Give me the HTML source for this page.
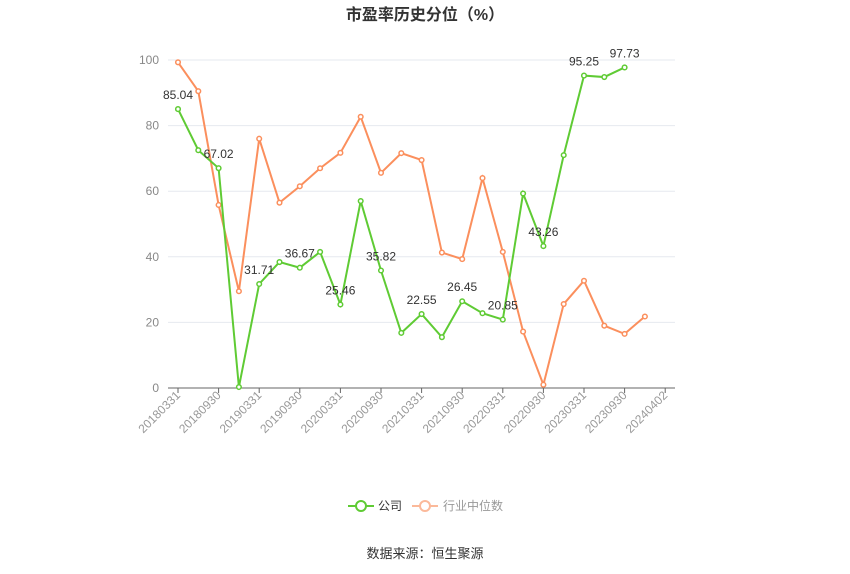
<!DOCTYPE html>
<html><head><meta charset="utf-8"><style>
body{margin:0;background:#fff;}
svg{display:block;font-family:"Liberation Sans","Noto Sans CJK SC",sans-serif;}
</style></head><body>
<svg id="c" width="850" height="574" xmlns="http://www.w3.org/2000/svg"></svg>
<script>
const s=document.getElementById('c');
let h='';
h+='<text x="425" y="20" text-anchor="middle" font-size="16" font-weight="bold" fill="#333">市盈率历史分位（%）</text>';
const X=i=>178+i*20.3, Y=v=>388-v*3.28;
for(let v=0;v<=100;v+=20){
 if(v>0)h+=`<line x1="168" x2="675" y1="${Y(v)}" y2="${Y(v)}" stroke="#e6e9ef" stroke-width="1"/>`;
 h+=`<text x="159" y="${Y(v)+4}" text-anchor="end" font-size="12" fill="#888">${v}</text>`;
}
h+='<line x1="168" x2="675" y1="388" y2="388" stroke="#666" stroke-width="1"/>';
const labs=['20180331','20180930','20190331','20190930','20200331','20200930','20210331','20210930','20220331','20220930','20230331','20230930','20240402'];
labs.forEach((l,k)=>{const x=X(k*2);
 h+=`<line x1="${x}" x2="${x}" y1="388" y2="393" stroke="#666"/>`;
 h+=`<text transform="translate(${x+3},396) rotate(-45)" text-anchor="end" font-size="12" fill="#999">${l}</text>`;});
const g=[85.04,72.5,67.02,0.3,31.71,38.4,36.67,41.5,25.46,57,35.82,16.8,22.55,15.5,26.45,22.8,20.85,59.3,43.26,71,95.25,94.8,97.73];
const o=[99.3,90.5,55.8,29.5,76,56.5,61.5,67,71.7,82.7,65.6,71.6,69.5,41.3,39.3,64,41.5,17.2,1,25.6,32.7,19,16.5,21.8];
function ser(d,c){h+=`<polyline fill="none" stroke="${c}" stroke-width="2" points="${d.map((v,i)=>X(i)+','+Y(v)).join(' ')}"/>`;
 d.forEach((v,i)=>h+=`<circle cx="${X(i)}" cy="${Y(v)}" r="2.3" fill="#fff" stroke="${c}" stroke-width="1.5"/>`);}
ser(o,'#fb8f5d');ser(g,'#5fcb34');
const lb={0:'85.04',2:'67.02',4:'31.71',6:'36.67',8:'25.46',10:'35.82',12:'22.55',14:'26.45',16:'20.85',18:'43.26',20:'95.25',22:'97.73'};
for(const i in lb)h+=`<text x="${X(+i)}" y="${Y(g[i])-10}" text-anchor="middle" font-size="12" fill="#333">${lb[i]}</text>`;
h+='<line x1="348" x2="374" y1="506" y2="506" stroke="#5fcb34" stroke-width="2"/><circle cx="361" cy="506" r="5" fill="#fff" stroke="#5fcb34" stroke-width="2"/><text x="378" y="510" font-size="12" fill="#333">公司</text>';
h+='<line x1="412" x2="438" y1="506" y2="506" stroke="#fbb99a" stroke-width="2"/><circle cx="425" cy="506" r="5" fill="#fff" stroke="#fbb99a" stroke-width="2"/><text x="443" y="510" font-size="12" fill="#999">行业中位数</text>';
h+='<text x="425" y="558" text-anchor="middle" font-size="13" fill="#333">数据来源：恒生聚源</text>';
s.innerHTML=h;
</script>
</body></html>
